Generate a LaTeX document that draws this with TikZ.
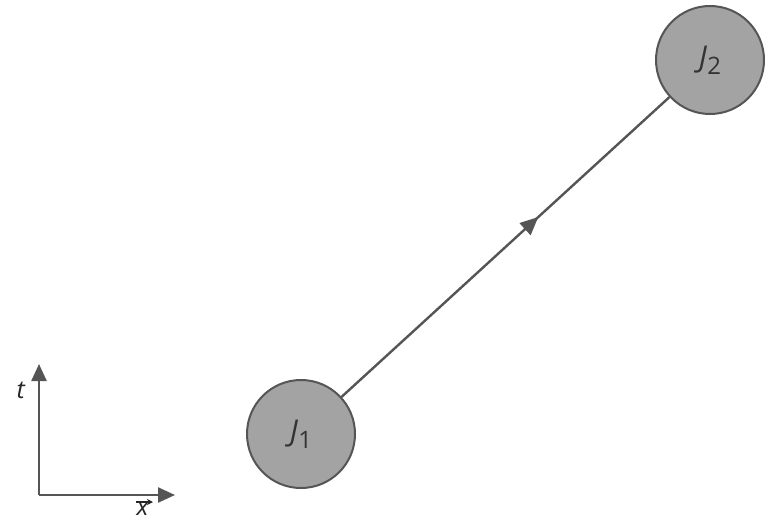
\documentclass[tikz,border=0pt]{standalone}
\usepackage{fontspec}
\setmainfont{Open Sans}
\usetikzlibrary{arrows.meta,decorations.markings}
\definecolor{linegray}{HTML}{555555}
\definecolor{fillgray}{HTML}{A3A3A3}
\tikzset{
  vertex/.style={circle,draw=linegray,line width=2pt,fill=fillgray,minimum size=108pt,inner sep=0pt,font=\fontsize{30}{32}\selectfont,text=black!80},
  prop/.style={draw=linegray,line width=2.4pt,postaction={decorate},
    decoration={markings,mark=at position 0.6 with {\arrow{Triangle[length=18pt,width=16pt]}}}},
  axis/.style={draw=linegray,line width=2.4pt,-{Triangle[length=17pt,width=15pt]}},
  lab/.style={font=\fontsize{25}{27}\selectfont,text=black!85,inner sep=1pt},
  vecarrow/.style={draw=black!85,line width=1.4pt,-{Stealth[length=6pt,width=6pt]}}
}
\begin{document}
\begin{tikzpicture}[x=1pt,y=-1pt]
\useasboundingbox (0,0) rectangle (765,524);
\node[vertex] (J1) at (301,434) {\textit{J}\raisebox{-7pt}{\fontsize{24}{26}\selectfont 1}};
\node[vertex] (J2) at (710,60) {\textit{J}\raisebox{-7pt}{\fontsize{24}{26}\selectfont 2}};
\draw[prop] (J1) -- (J2);
\coordinate (O) at (39,495);
\coordinate (T) at (39,364);
\coordinate (X) at (175,495);
\draw[axis] (O) -- (T);
\draw[axis] (O) -- (X);
\node[lab] (tl) at (21,390) {\textit{t}};
\node[lab,anchor=base] (xl) at (143,515) {\textit{x}};
\coordinate (va) at (136,502);
\coordinate (vb) at (153,502);
\draw[vecarrow] (va) -- (vb);
\end{tikzpicture}
\end{document}
